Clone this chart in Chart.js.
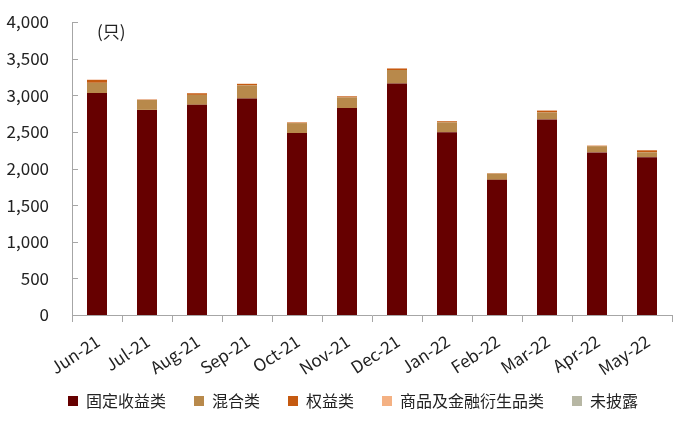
<!DOCTYPE html>
<html>
<head>
<meta charset="utf-8">
<script src="https://cdn.jsdelivr.net/npm/chart.js@4/dist/chart.umd.min.js"></script>
<style>
  html, body { margin: 0; padding: 0; background: #fff; }
  #wrap { width: 700px; height: 428px; }
</style>
</head>
<body>
<div id="wrap"><canvas id="fundChart" width="700" height="428"></canvas></div>
<script>
'use strict';

// ── Data ─────────────────────────────────────────────────────
const months      = ['Jun-21', 'Jul-21', 'Aug-21', 'Sep-21', 'Oct-21', 'Nov-21', 'Dec-21', 'Jan-22', 'Feb-22', 'Mar-22', 'Apr-22', 'May-22'];
const fixedIncome = [3030, 2800, 2870, 2955, 2485, 2825, 3160, 2495, 1845, 2670, 2220, 2155];
const mixed       = [140, 135, 135, 180, 135, 145, 185, 135, 85, 95, 85, 65];
const equity      = [40, 5, 22, 20, 8, 15, 20, 15, 5, 25, 5, 28];
const commodity   = [3, 3, 3, 3, 3, 3, 3, 3, 3, 3, 5, 3];
const undisclosed = [0, 0, 0, 0, 0, 0, 0, 0, 0, 0, 0, 0];
const yTicks      = [0, 500, 1000, 1500, 2000, 2500, 3000, 3500, 4000];

const FONT = '"Noto Sans CJK SC", "Noto Sans", sans-serif';
const AXIS_GREY = '#a6a6a6';

// ── Layout tweaks: let rotated labels overflow, nudge legend ─
const layoutTweaks = {
  id: 'layoutTweaks',
  afterLayout(chart) {
    chart.scales.x.bottom = chart.height;
    const lg = chart.legend;
    lg.left += 17;
    lg.right += 17;
  }
};

// ── Inside tick marks on the y axis + unit label ─────────────
const decorations = {
  id: 'decorations',
  afterDraw(chart) {
    const { ctx, chartArea } = chart;
    const y = chart.scales.y;
    ctx.save();
    ctx.strokeStyle = AXIS_GREY;
    ctx.lineWidth = 1;
    yTicks.forEach(v => {
      const py = Math.round(y.getPixelForValue(v)) + 0.5;
      ctx.beginPath();
      ctx.moveTo(chartArea.left, py);
      ctx.lineTo(chartArea.left + 6, py);
      ctx.stroke();
    });
    ctx.fillStyle = '#222';
    ctx.font = '17px ' + FONT;
    ctx.textBaseline = 'middle';
    ctx.fillText('(只)', chartArea.left + 25, 32);
    ctx.restore();
  }
};

const ds = (label, data, color) => ({
  label, data, backgroundColor: color, borderWidth: 0,
  categoryPercentage: 0.8, barPercentage: 0.5
});

new Chart(document.getElementById('fundChart'), {
  type: 'bar',
  data: {
    labels: months,
    datasets: [
      ds('固定收益类', fixedIncome, '#660000'),
      ds('混合类', mixed, '#b8894b'),
      ds('权益类', equity, '#c55a11'),
      ds('商品及金融衍生品类', commodity, '#f4b183'),
      ds('未披露', undisclosed, '#b7b7a4')
    ]
  },
  options: {
    responsive: false,
    animation: false,
    layout: { padding: { top: 22, right: 28, bottom: 9, left: 0 } },
    scales: {
      x: {
        stacked: true,
        grid: { display: true, drawOnChartArea: false, offset: true, tickLength: 7, color: AXIS_GREY },
        border: { display: true, color: AXIS_GREY },
        ticks: {
          color: '#222', font: { family: FONT, size: 17 },
          minRotation: 33, maxRotation: 33, padding: 9, labelOffset: 1
        },
        afterFit: s => { s.height = 50; }
      },
      y: {
        stacked: true,
        min: 0, max: 4000,
        // ticks hidden, tickLength only spaces the labels away from the axis
        grid: { display: false, drawTicks: true, tickLength: 20 },
        border: { display: true, color: AXIS_GREY },
        ticks: {
          stepSize: 500, color: '#222', padding: 3,
          font: { family: FONT, size: 17 },
          callback: v => v.toLocaleString('en-US')
        },
        afterFit: s => { s.width = 72; }
      }
    },
    plugins: {
      legend: {
        position: 'bottom',
        labels: { boxWidth: 10, boxHeight: 10, padding: 28, color: '#222', font: { family: FONT, size: 16 } }
      },
      tooltip: { enabled: false }
    }
  },
  plugins: [layoutTweaks, decorations]
});
</script>
</body>
</html>
